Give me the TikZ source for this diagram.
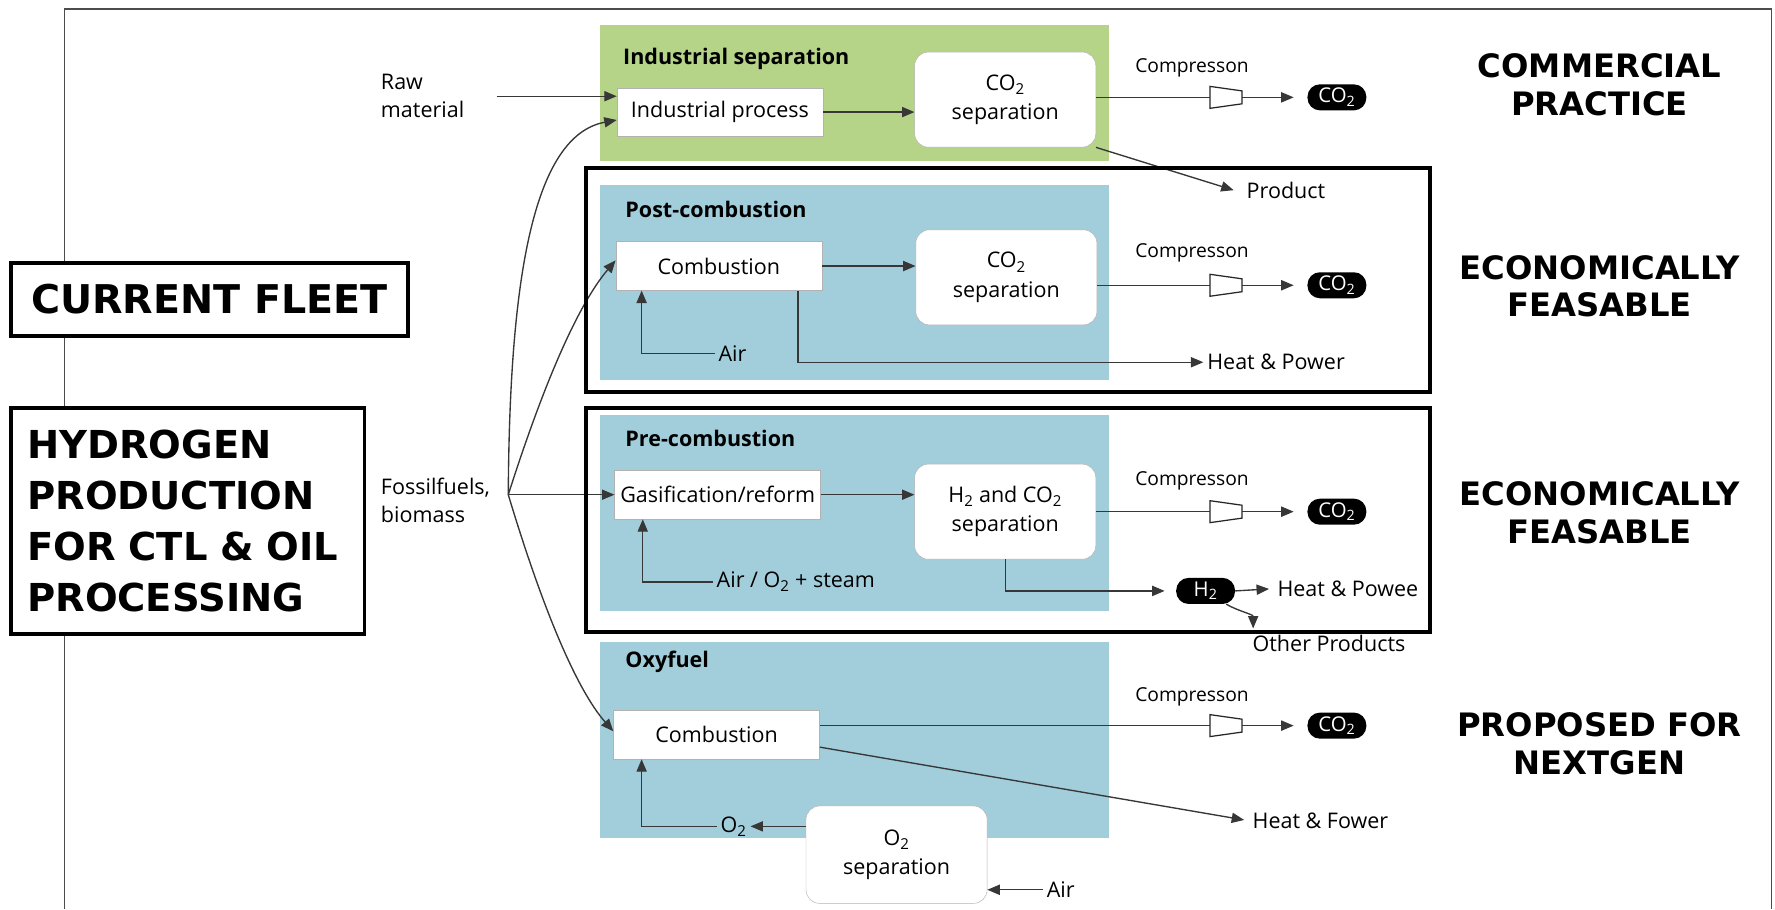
\documentclass[tikz,border=0pt]{standalone}
\usepackage{fontspec}
\setmainfont{Open Sans}
\newfontfamily\heavy{DejaVu Sans}
\usetikzlibrary{arrows.meta}
\newcommand{\COt}{CO\textsubscript{2}}

\definecolor{stagegreen}{RGB}{181,212,136}
\definecolor{stageblue}{RGB}{162,206,220}
\definecolor{linegray}{RGB}{55,55,55}

\tikzset{
  stagetitle/.style={anchor=west, font=\fontsize{19}{21}\selectfont\bfseries},
  procbox/.style={draw=gray!60, fill=white, minimum width=182pt, minimum height=43pt, inner sep=0pt, font=\fontsize{19}{21}\selectfont},
  sepbox/.style={draw=gray!60, fill=white, rounded corners=12pt, minimum width=160pt, minimum height=84pt, align=center, font=\fontsize{19}{26}\selectfont},
  pill/.style={fill=black, text=white, rounded corners=11pt, minimum width=52pt, minimum height=23pt, inner sep=0pt, font=\fontsize{18}{18}\selectfont},
  compressor/.style={minimum width=28pt, minimum height=19pt, inner sep=0pt},
  flow/.style={draw=linegray, line width=1.2pt, -{Triangle[length=11pt,width=9pt]}},
  plain/.style={draw=linegray, line width=1.2pt},
  note/.style={font=\fontsize{19}{25}\selectfont},
  compnote/.style={font=\fontsize{17}{20}\selectfont},
  rating/.style={align=center, font=\heavy\bfseries\fontsize{28.5}{33}\selectfont},
  fleet/.style={draw, fill=white, line width=3.5pt, font=\heavy\bfseries\fontsize{34}{45}\selectfont},
  group/.style={draw, line width=3.5pt}
}

\begin{document}
\begin{tikzpicture}[x=1pt, y=-1pt]
    \useasboundingbox (0,0) rectangle (1568,803);
    \draw[black!70, line width=1.5pt] (57,803) -- (57,8) -- (1565,8) -- (1565,803);

    % stage backgrounds
    \fill[stagegreen] (530,22) rectangle (980,142);
    \fill[stageblue] (530,163) rectangle (980,336);
    \fill[stageblue] (530,367) rectangle (980,540);
    \fill[stageblue] (530,567) rectangle (980,740);

    \node[stagetitle] (t1) at (547,52) {Industrial separation};
    \node[stagetitle] (t2) at (549,185) {Post-combustion};
    \node[stagetitle] (t3) at (549,387) {Pre-combustion};
    \node[stagetitle] (t4) at (549,585) {Oxyfuel};

    % industrial separation
    \node[note, anchor=west, align=left] (raw) at (333,85) {Raw\\material};
    \node[procbox] (ind) at (636,99) {Industrial process};
    \node[sepbox] (sep1) at (888,88) {\COt\\separation};
    \node[compressor] (comp1) at (1083,86) {};
    \node[pill] (co1) at (1181,86) {\COt};
    \node[compnote] (lab1) at (1053,60) {Compresson};
    \node[note] (prod) at (1136,168) {Product};

    \draw[flow] ([xshift=25pt]raw.east |- 0,85) -- ([yshift=14pt]ind.west);
    \draw[flow] (ind.east) -- (sep1.west |- ind.east);
    \draw[plain] (sep1.east |- comp1) -- (comp1.west);
    \draw[flow, shorten >=12pt] (comp1.east) -- (co1.west);
    \draw[flow] (sep1.south east) -- ([xshift=-8pt]prod.west);

    % post-combustion
    \node[procbox] (comb1) at (635,235) {Combustion};
    \node[sepbox] (sep2) at (889,245) {\COt\\separation};
    \node[compressor] (comp2) at (1083,252) {};
    \node[pill] (co2) at (1181,252) {\COt};
    \node[compnote] (lab2) at (1053,223) {Compresson};
    \node[note] (air1) at (647,312) {Air};
    \node[note, anchor=west] (hp1) at (1063,320) {Heat \& Power};

    \draw[flow] (comb1.east) -- (sep2.west |- comb1.east);
    \draw[plain] (sep2.east |- comp2) -- (comp2.west);
    \draw[flow, shorten >=12pt] (comp2.east) -- (co2.west);
    \draw[flow] (air1.west) -| ([xshift=23pt]comb1.south west);
    \draw[flow] ([xshift=70pt]comb1.south) |- (hp1.west);

    % pre-combustion
    \node[procbox] (gas) at (634,437) {Gasification/reform};
    \node[sepbox] (sep3) at (888,452) {H\textsubscript{2} and \COt\\separation};
    \node[compressor] (comp3) at (1083,452) {};
    \node[pill] (co3) at (1181,452) {\COt};
    \node[compnote] (lab3) at (1053,425) {Compresson};
    \node[note] (steam) at (703,514) {Air / O\textsubscript{2} + steam};
    \node[pill] (h2) at (1065,522) {H\textsubscript{2}};
    \node[note, anchor=west] (hp2) at (1125,520) {Heat \& Powee};
    \node[note] (other) at (1174,568) {Other Products};

    \draw[flow] (gas.east) -- (sep3.west |- gas.east);
    \draw[plain] (sep3.east) -- (comp3.west);
    \draw[flow, shorten >=12pt] (comp3.east) -- (co3.west);
    \draw[flow] (steam.west) -| ([xshift=25pt]gas.south west);
    \draw[flow, shorten >=10pt] (sep3.south) |- (h2.west);
    \draw[flow, shorten >=4pt] (h2.east) -- (hp2.west);
    \draw[flow] ([xshift=-8pt]h2.south east) to[out=-30, in=90] ([xshift=4pt, yshift=2pt]other.north west);

    % oxyfuel
    \node[procbox] (comb3) at (633,649) {Combustion};
    \node[compressor] (comp4) at (1083,641) {};
    \node[pill] (co4) at (1181,641) {\COt};
    \node[compnote] (lab4) at (1053,616) {Compresson};
    \node[note, anchor=west] (hp3) at (1103,725) {Heat \& Fower};
    \node[note] (o2) at (648,730) {O\textsubscript{2}};
    \node[sepbox, minimum height=86pt] (osep) at (792,755) {O\textsubscript{2}\\separation};
    \node[note] (air3) at (937,786) {Air};

    \draw[plain] (comb3.east |- comp4) -- (comp4.west);
    \draw[flow, shorten >=12pt] (comp4.east) -- (co4.west);
    \draw[flow, shorten >=4pt] ([yshift=-11pt]comb3.east) -- (hp3.west);
    \draw[flow] (osep.west |- o2) -- (o2.east);
    \draw[flow] (o2.west) -| ([xshift=25pt]comb3.south west);
    \draw[flow] (air3.west) -- (osep.east |- air3);

    % compressor outlines
    \foreach \c in {comp1, comp2, comp3, comp4}
        \draw[black!85, fill=white, line width=1.1pt] (\c.north west) -- ([yshift=-4pt]\c.north east)
            -- ([yshift=4pt]\c.south east) -- (\c.south west) -- cycle;

    % fossil fuels feed
    \node[note, anchor=west, align=left] (fuel) at (333,442) {Fossilfuels,\\biomass};
    \coordinate (fork) at (449,437);
    \draw[flow] (fork) .. controls (450,250) and (470,120) .. ([yshift=-7pt]ind.west);
    \draw[flow] (fork) .. controls (480,340) and (510,270) .. ([yshift=5pt]comb1.west);
    \draw[flow] (fork) -- (gas.west);
    \draw[flow] (fork) .. controls (480,540) and (510,610) .. ([yshift=3pt]comb3.west);

    % groupings
    \draw[group] (518,148) rectangle (1263,346);
    \draw[group] (518,360) rectangle (1263,558);

    \node[fleet, minimum width=350pt, minimum height=65pt, font=\heavy\bfseries\fontsize{35}{45}\selectfont] (fleet) at (185,264.5) {CURRENT FLEET};
    \node[fleet, minimum width=312pt, minimum height=200pt, text width=284pt, align=left] (hydro) at (166,460) {HYDROGEN\\PRODUCTION\\FOR CTL \& OIL\\PROCESSING};

    \node[rating] (r1) at (1413,75) {COMMERCIAL\\PRACTICE};
    \node[rating] (r2) at (1413,253) {ECONOMICALLY\\FEASABLE};
    \node[rating] (r3) at (1413,453) {ECONOMICALLY\\FEASABLE};
    \node[rating] (r4) at (1413,657) {PROPOSED FOR\\NEXTGEN};
\end{tikzpicture}
\end{document}
